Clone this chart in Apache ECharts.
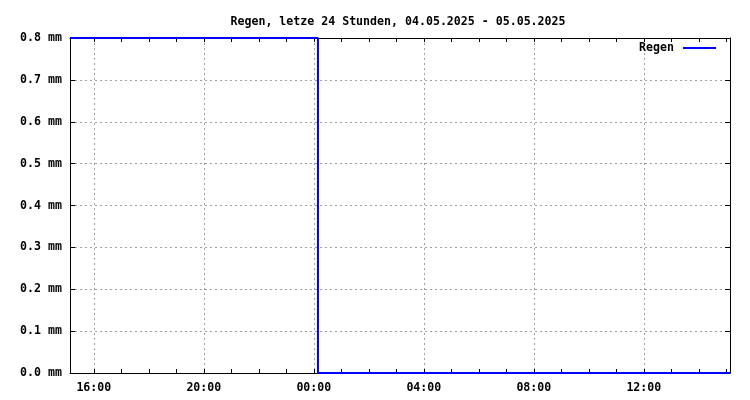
<!DOCTYPE html>
<html><head><meta charset="utf-8">
<script src="https://cdn.jsdelivr.net/npm/echarts@6/dist/echarts.min.js"></script>
<style>html,body{margin:0;padding:0;background:#fff}#c{width:750px;height:400px}</style>
</head><body><div id="c"></div>
<script>
const titleText = 'Regen, letze 24 Stunden, 04.05.2025 - 05.05.2025';
const seriesName = 'Regen';
const times = ['2025-05-04 15:08', '2025-05-04 18:00', '2025-05-04 21:00', '2025-05-05 00:09', '2025-05-05 00:09', '2025-05-05 04:00', '2025-05-05 08:00', '2025-05-05 12:00', '2025-05-05 15:08'];
const rain = [0.8, 0.8, 0.8, 0.8, 0.0, 0.0, 0.0, 0.0, 0.0];
const xMin = '2025-05-04 15:08';
const xMax = '2025-05-05 15:08';

const font = 'DejaVu Sans Mono';
const fs = 11.6;
const H = 3600 * 1000;
const pad = n => (n < 10 ? '0' : '') + n;
const minT = echarts.time.parse(xMin).getTime();
const maxT = echarts.time.parse(xMax).getTime();

const chart = echarts.init(document.getElementById('c'), null, {renderer: 'canvas'});
function tickAxis(pos) {
  return {type: 'time', min: minT, max: maxT, position: pos,
    minInterval: H, maxInterval: H,
    axisLine: {show: true, lineStyle: {color: '#000', width: 1}},
    axisTick: {show: true, inside: true, length: 4, lineStyle: {color: '#000'}},
    axisLabel: {show: false}, splitLine: {show: false}};
}
chart.setOption({
  animation: false,
  backgroundColor: '#fff',
  title: {text: titleText, left: 393, textAlign: 'center', top: 11,
    textStyle: {fontFamily: font, fontSize: fs, fontWeight: 'bold', color: '#000'}},
  legend: {data: [seriesName], right: 29, top: 37, align: 'right', icon: 'rect',
    itemWidth: 33, itemHeight: 2, itemGap: 0,
    textStyle: {fontFamily: font, fontSize: fs, fontWeight: 'bold', color: '#000', padding: [0, 4, 0, 0]}},
  grid: {left: 70, right: 20, top: 38, bottom: 27, containLabel: false},
  xAxis: [
    {type: 'time', min: minT, max: maxT, position: 'bottom',
      minInterval: 4 * H, maxInterval: 4 * H,
      axisLine: {show: false}, axisTick: {show: false},
      axisLabel: {show: true, margin: 9, fontFamily: font, fontSize: fs, fontWeight: 'bold', color: '#000',
        showMinLabel: false, showMaxLabel: false,
        formatter: v => { const d = new Date(v); return pad(d.getHours()) + ':' + pad(d.getMinutes()); }},
      splitLine: {show: true, lineStyle: {color: '#a0a0a0', type: [2, 3], width: 1}}},
    tickAxis('bottom'),
    tickAxis('top')
  ],
  yAxis: [
    {type: 'value', min: 0, max: 0.8, interval: 0.1, position: 'left',
      axisLine: {show: true, lineStyle: {color: '#000'}},
      axisTick: {show: true, inside: true, length: 5, lineStyle: {color: '#000'}},
      axisLabel: {margin: 8, fontFamily: font, fontSize: fs, fontWeight: 'bold', color: '#000',
        formatter: v => v.toFixed(1) + ' mm'},
      splitLine: {show: true, lineStyle: {color: '#a0a0a0', type: [2, 3], width: 1}}},
    {type: 'value', min: 0, max: 0.8, interval: 0.1, position: 'right',
      axisLine: {show: true, lineStyle: {color: '#000'}},
      axisTick: {show: true, inside: true, length: 5, lineStyle: {color: '#000'}},
      axisLabel: {show: false}, splitLine: {show: false}}
  ],
  series: [{
    name: seriesName, type: 'line', xAxisIndex: 0, yAxisIndex: 0,
    data: times.map((t, i) => [echarts.time.parse(t).getTime(), rain[i]]),
    showSymbol: false, symbol: 'none', clip: false,
    lineStyle: {color: '#0000ff', width: 2}, itemStyle: {color: '#0000ff'}, z: 5
  }]
});
</script></body></html>
